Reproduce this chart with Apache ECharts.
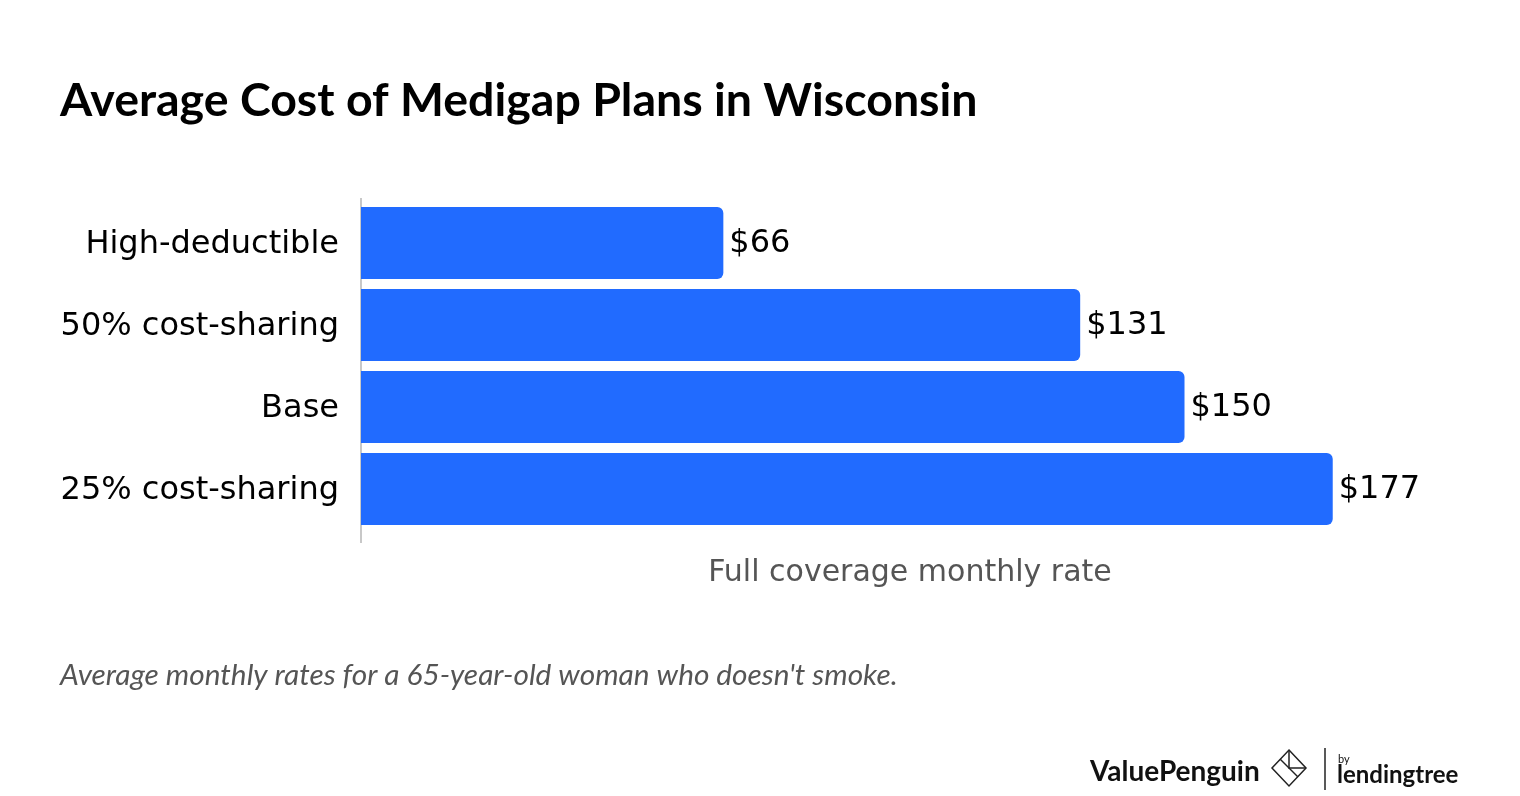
<!DOCTYPE html>
<html><head><meta charset="utf-8">
<script src="https://cdn.jsdelivr.net/npm/echarts@6/dist/echarts.min.js"></script>
<style>html,body{margin:0;padding:0;background:#fff}#c{width:1520px;height:796px}</style>
</head><body><div id="c"></div>
<script>
const categories = ['High-deductible', '50% cost-sharing', 'Base', '25% cost-sharing'];
const values = [66, 131, 150, 177];

const chart = echarts.init(document.getElementById('c'));
chart.setOption({
  backgroundColor: '#fff',
  animation: false,
  title: {
    text: 'Average Cost of Medigap Plans in Wisconsin',
    left: 55, top: 72,
    textStyle: { fontFamily: 'Lato', fontWeight: 'bold', fontSize: 46.5, color: '#000' }
  },
  grid: { left: 361, right: 61, top: 202, bottom: 266, containLabel: false },
  xAxis: {
    type: 'value', min: 0, max: 200,
    axisLine: { show: false }, axisTick: { show: false }, axisLabel: { show: false }, splitLine: { show: false },
    name: 'Full coverage monthly rate', nameLocation: 'middle', nameGap: 28,
    nameTextStyle: { fontFamily: 'DejaVu Sans', fontSize: 30, color: '#555', verticalAlign: 'top' }
  },
  yAxis: {
    type: 'category', data: categories, inverse: true,
    axisLine: { show: false }, axisTick: { show: false },
    axisLabel: { margin: 22, formatter: '{a|{value}}',
      rich: { a: { fontFamily: 'DejaVu Sans', fontSize: 32, color: '#000', padding: [4, 0, 0, 0] } } }
  },
  series: [{
    type: 'bar', data: values, barCategoryGap: '12%',
    itemStyle: { color: '#216BFF', borderRadius: [0, 6, 6, 0] },
    label: { show: true, position: 'right', distance: 6, offset: [0, 1], formatter: p => '$' + p.value,
      fontFamily: 'DejaVu Sans', fontSize: 32, color: '#000' }
  }],
  graphic: [
    { type: 'line', shape: { x1: 361, y1: 198, x2: 361, y2: 543 }, style: { stroke: '#c8c8c8', lineWidth: 2 } },
    { type: 'text', left: 60, top: 660, style: { text: "Average monthly rates for a 65-year-old woman who doesn't smoke.",
      font: 'italic 29.8px Lato', fill: '#555' } },
    { type: 'text', left: 1090, top: 758, style: { text: 'ValuePenguin', font: 'bold 28px Lato', fill: '#111' } },
    { type: 'polygon', shape: { points: [[1289,750],[1306,768],[1289,786],[1272,768]] }, style: { fill: 'none', stroke: '#222', lineWidth: 1.5 } },
    { type: 'polyline', shape: { points: [[1280,759],[1298,777]] }, style: { stroke: '#222', lineWidth: 1.5 } },
    { type: 'polyline', shape: { points: [[1289,750],[1289,768],[1306,768]] }, style: { stroke: '#222', lineWidth: 1.5 } },
    { type: 'line', shape: { x1: 1325, y1: 748, x2: 1325, y2: 790 }, style: { stroke: '#222', lineWidth: 1.5 } },
    { type: 'text', left: 1338, top: 754, style: { text: 'by', font: '11px Lato', fill: '#111' } },
    { type: 'text', left: 1337, top: 763, style: { text: 'lendingtree', font: 'bold 24px Lato', fill: '#111' } }
  ]
});
</script></body></html>
